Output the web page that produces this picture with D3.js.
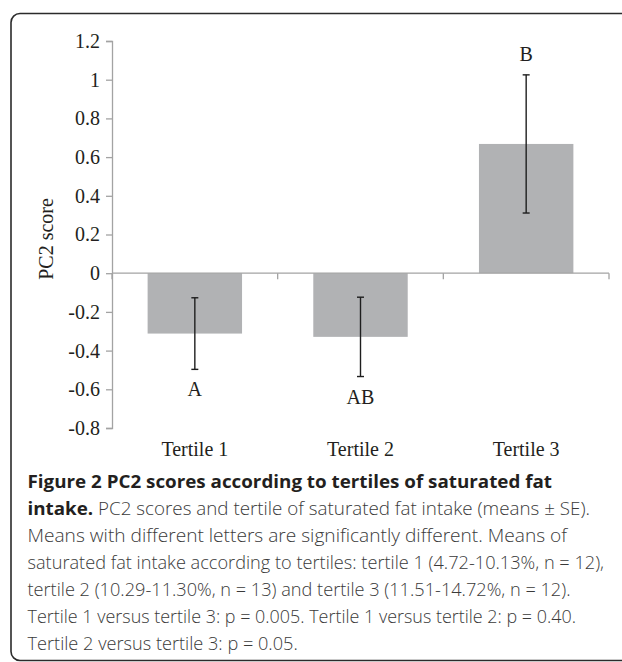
<!DOCTYPE html>
<html>
<head>
<meta charset="utf-8">
<script src="https://cdn.jsdelivr.net/npm/d3@7"></script>
<style>
  body { margin: 0; background: #fff; }
  .tick-label, .cat-label, .sig, .ytitle { font-family: "Liberation Serif", "Times New Roman", serif; font-size: 20px; fill: #231f20; }
  .cap { font-family: "Open Sans", "Noto Sans", sans-serif; font-size: 18px; font-weight: 300; fill: #3a3a3a; }
  .cap-bold { font-weight: bold; fill: #231f20; }
</style>
</head>
<body>
<div class="graph"></div>
<script>
// data
var categories = ["Tertile 1", "Tertile 2", "Tertile 3"];
var means = [-0.312, -0.329, 0.668];
var errors = [0.185, 0.205, 0.357];
var letters = ["A", "AB", "B"];
var yTicks = [-0.8, -0.6, -0.4, -0.2, 0, 0.2, 0.4, 0.6, 0.8, 1, 1.2];

var captionLines = [
  [["Figure 2 PC2 scores according to tertiles of saturated fat", true]],
  [["intake.", true], [" PC2 scores and tertile of saturated fat intake (means \u00b1 SE).", false]],
  [["Means with different letters are significantly different. Means of", false]],
  [["saturated fat intake according to tertiles: tertile 1 (4.72-10.13%, n = 12),", false]],
  [["tertile 2 (10.29-11.30%, n = 13) and tertile 3 (11.51-14.72%, n = 12).", false]],
  [["Tertile 1 versus tertile 3: p = 0.005. Tertile 1 versus tertile 2: p = 0.40.", false]],
  [["Tertile 2 versus tertile 3: p = 0.05.", false]]
];
// right end of each printed caption line (0 = leave natural)
var captionEnds = [552, 590, 567, 604, 0, 576, 0];

var W = 622, H = 662;
var plot = {left: 112, right: 609, top: 41, bottom: 428};

var svg = d3.select(".graph").append("svg")
    .attr("width", W)
    .attr("height", H);

// frame round the figure (only top/left visible in the crop)
svg.append("rect")
    .attr("x", 11).attr("y", 13.5)
    .attr("width", 700).attr("height", 647)
    .attr("rx", 9).attr("ry", 9)
    .attr("fill", "none")
    .attr("stroke", "#2b2b2b")
    .attr("stroke-width", 1.6);

var x = d3.scaleBand().domain(categories).range([plot.left, plot.right]);
var y = d3.scaleLinear().domain([-0.8, 1.2]).range([plot.bottom, plot.top]);

var barW = x.bandwidth() * 0.57;

// bars
svg.selectAll(".bar")
    .data(means)
  .enter().append("rect")
    .attr("class", "bar")
    .attr("x", function(d, i) { return x(categories[i]) + (x.bandwidth() - barW) / 2; })
    .attr("y", function(d) { return y(Math.max(0, d)); })
    .attr("width", barW)
    .attr("height", function(d) { return Math.abs(y(d) - y(0)); })
    .attr("fill", "#b1b2b4");

// y axis
var yAxis = svg.append("g")
    .attr("transform", "translate(" + plot.left + ",0)")
    .call(d3.axisLeft(y).tickValues(yTicks).tickSize(6).tickPadding(6)
      .tickFormat(function(d) { return String(+d.toFixed(1)); }));
yAxis.select(".domain").attr("stroke", "#a3a3a3").attr("stroke-width", 1.3);
yAxis.selectAll(".tick line").attr("stroke", "#a3a3a3").attr("stroke-width", 1.3);
yAxis.selectAll(".tick text")
    .attr("class", "tick-label")
    .attr("font-family", null).attr("font-size", null)
    .attr("fill", null);

// x axis along zero, ticks at category edges
var edges = categories.map(function(c) { return x(c); }).concat([x.range()[1]]);
svg.append("line")
    .attr("x1", plot.left).attr("x2", plot.right)
    .attr("y1", y(0)).attr("y2", y(0))
    .attr("stroke", "#a3a3a3").attr("stroke-width", 1.3);
svg.selectAll(".xtick")
    .data(edges)
  .enter().append("line")
    .attr("class", "xtick")
    .attr("x1", function(d) { return d; }).attr("x2", function(d) { return d; })
    .attr("y1", y(0)).attr("y2", y(0) + 6)
    .attr("stroke", "#a3a3a3").attr("stroke-width", 1.3);

// category labels at the bottom of the plot
svg.selectAll(".cat-label")
    .data(categories)
  .enter().append("text")
    .attr("class", "cat-label")
    .attr("x", function(d) { return x(d) + x.bandwidth() / 2; })
    .attr("y", plot.bottom + 28)
    .attr("text-anchor", "middle")
    .text(function(d) { return d; });

// error bars
var cap = 3.5;
var eb = svg.selectAll(".err")
    .data(means)
  .enter().append("g")
    .attr("class", "err")
    .attr("stroke", "#1e1e1e")
    .attr("stroke-width", 1.4);
eb.append("line")
    .attr("x1", function(d, i) { return x(categories[i]) + x.bandwidth() / 2; })
    .attr("x2", function(d, i) { return x(categories[i]) + x.bandwidth() / 2; })
    .attr("y1", function(d, i) { return y(d + errors[i]); })
    .attr("y2", function(d, i) { return y(d - errors[i]); });
[1, -1].forEach(function(s) {
  eb.append("line")
    .attr("x1", function(d, i) { return x(categories[i]) + x.bandwidth() / 2 - cap; })
    .attr("x2", function(d, i) { return x(categories[i]) + x.bandwidth() / 2 + cap; })
    .attr("y1", function(d, i) { return y(d + s * errors[i]); })
    .attr("y2", function(d, i) { return y(d + s * errors[i]); });
});

// significance letters
svg.selectAll(".sig")
    .data(letters)
  .enter().append("text")
    .attr("class", "sig")
    .attr("text-anchor", "middle")
    .attr("x", function(d, i) { return x(categories[i]) + x.bandwidth() / 2; })
    .attr("y", function(d, i) {
      return means[i] >= 0 ? y(means[i] + errors[i]) - 14 : y(means[i] - errors[i]) + 27;
    })
    .text(function(d) { return d; });

// y title
svg.append("text")
    .attr("class", "ytitle")
    .attr("text-anchor", "middle")
    .attr("transform", "translate(53,239) rotate(-90)")
    .text("PC2 score");

// caption
var capLeft = 27.5;
var capG = svg.append("g");
var capTexts = capG.selectAll(".cap")
    .data(captionLines)
  .enter().append("text")
    .attr("class", "cap")
    .attr("x", 0)
    .attr("y", function(d, i) { return 488.5 + i * 26.9; });
capTexts.each(function(parts) {
  var t = d3.select(this);
  parts.forEach(function(p) {
    t.append("tspan")
      .attr("class", p[1] ? "cap-bold" : null)
      .text(p[0]);
  });
});
// squeeze to the width of the printed caption, using the longest line as reference
var kReg = (captionEnds[3] - capLeft) / capTexts.nodes()[3].getComputedTextLength();
capTexts.attr("transform", "translate(" + capLeft + ",0) scale(" + kReg + ",1)");
capTexts.each(function(d, i) {
  if (captionEnds[i]) {
    d3.select(this)
      .attr("textLength", (captionEnds[i] - capLeft) / kReg)
      .attr("lengthAdjust", "spacingAndGlyphs");
  }
});
</script>
</body>
</html>
